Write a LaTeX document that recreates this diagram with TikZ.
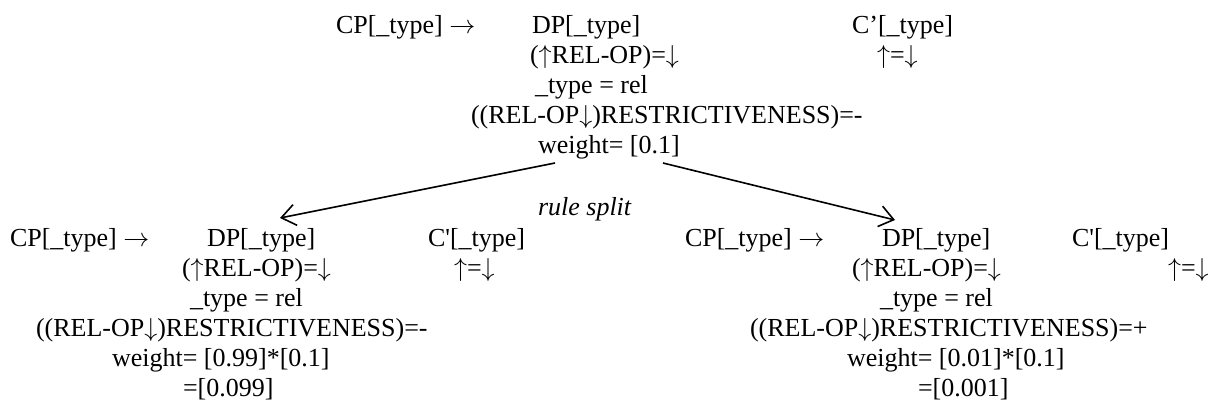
\documentclass[tikz,border=0pt]{standalone}
\usepackage{fix-cm}
\usepackage{fontspec}
\setmainfont{Liberation Serif}
\usetikzlibrary{arrows.meta}
\tikzset{
  ln/.style={anchor=base west, inner sep=0pt, outer sep=0pt},
  split/.style={line width=1.6pt, -{Straight Barb[length=14pt, width=21pt, line width=1.6pt]}},
}
\newcommand{\us}{\_}
\newcommand{\sq}{\textquotesingle}
\newcommand{\rarr}{$\rightarrow$}
\newcommand{\uarr}{$\uparrow$}
\newcommand{\darr}{$\downarrow$}
\begin{document}
\begin{tikzpicture}[x=1pt, y=-1pt, font=\fontsize{26}{30}\selectfont]
\useasboundingbox (0,0) rectangle (1212,405);

% ---- original rule ----
\node[ln] (tcp)  at (336,33)  {CP[\us type] \rarr};
\node[ln] (tdp)  at (532,33)  {DP[\us type]};
\node[ln] (tc)   at (852,33)  {C’[\us type]};
\node[ln] (tr1)  at (530,63)  {(\uarr REL-OP)=\darr};
\node[ln] (tcr)  at (877,63)  {\uarr=\darr};
\node[ln] (tr2)  at (535,93)  {\us type = rel};
\node[ln] (tr3)  at (471,123) {((REL-OP\darr)RESTRICTIVENESS)=-};
\node[ln] (tw)   at (538,153) {weight= [0.1]};

% ---- split label ----
\node[ln] (rs)   at (538,215) {\itshape rule split};

% ---- left result ----
\node[ln] (lcp)  at (10,246)  {CP[\us type] \rarr};
\node[ln] (ldp)  at (207,246) {DP[\us type]};
\node[ln] (lc)   at (428,246) {C\sq[\us type]};
\node[ln] (lr1)  at (182,276) {(\uarr REL-OP)=\darr};
\node[ln] (lcr)  at (454,276) {\uarr=\darr};
\node[ln] (lr2)  at (190,306) {\us type = rel};
\node[ln] (lr3)  at (36,336)  {((REL-OP\darr)RESTRICTIVENESS)=-};
\node[ln] (lw)   at (112,366) {weight= [0.99]*[0.1]};
\node[ln] (lw2)  at (183,396) {=[0.099]};

% ---- right result ----
\node[ln] (rcp)  at (685,246)  {CP[\us type] \rarr};
\node[ln] (rdp)  at (882,246)  {DP[\us type]};
\node[ln] (rc)   at (1072,246) {C\sq[\us type]};
\node[ln] (rr1)  at (852,276)  {(\uarr REL-OP)=\darr};
\node[ln] (rcr)  at (1168,276) {\uarr=\darr};
\node[ln] (rr2)  at (880,306)  {\us type = rel};
\node[ln] (rr3)  at (750,336)  {((REL-OP\darr)RESTRICTIVENESS)=+};
\node[ln] (rw)   at (847,366)  {weight= [0.01]*[0.1]};
\node[ln] (rw2)  at (918,396)  {=[0.001]};

% ---- split arrows ----
\coordinate (sl) at (555,163);
\coordinate (sr) at (663,163);
\coordinate (el) at (280,218);
\coordinate (er) at (895,220);
\draw[split] (sl) -- (el);
\draw[split] (sr) -- (er);
\end{tikzpicture}
\end{document}
